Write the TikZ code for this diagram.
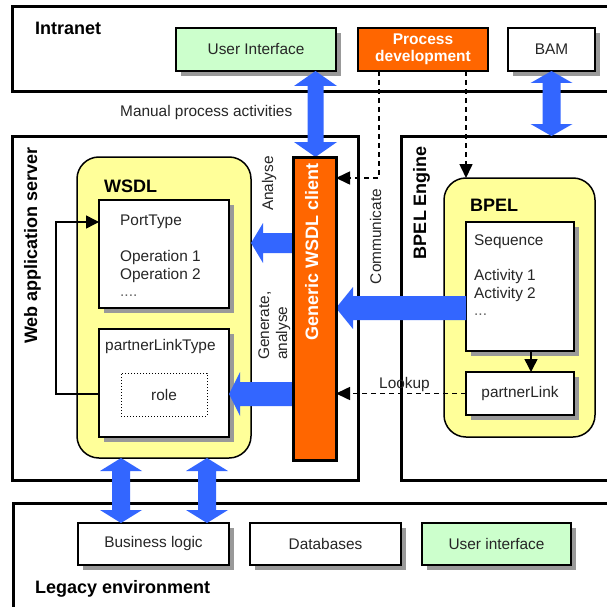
\documentclass[tikz,border=0pt]{standalone}
\usepackage{fontspec}
\setmainfont{Liberation Sans}
\usetikzlibrary{arrows.meta,calc,shadows}
\definecolor{arrblue}{HTML}{3366FF}
\definecolor{orng}{HTML}{FF6600}
\definecolor{ylw}{HTML}{FFFF99}
\definecolor{grn}{HTML}{CCFFCC}
\newcommand\txtR{\fontsize{15.4}{18}\selectfont}
\newcommand\txtB{\fontsize{18}{21}\selectfont\bfseries}
% fat single arrow pointing left: tip, tail, head length, head half width, shaft half width
\newcommand\fatleft[5]{%
  \fill[arrblue] let \p1=#1, \p2=#2 in
    (\x1,\y1) -- (\x1+#3,\y1+#4) -- (\x1+#3,\y1+#5) -- (\x2,\y1+#5)
    -- (\x2,\y1-#5) -- (\x1+#3,\y1-#5) -- (\x1+#3,\y1-#4) -- cycle;}
% fat vertical double arrow: top tip, bottom tip, head length, head half width, shaft half width
\newcommand\fatvv[5]{%
  \fill[arrblue] let \p1=#1, \p2=#2 in
    (\x1,\y1) -- (\x1+#4,\y1-#3) -- (\x1+#5,\y1-#3) -- (\x1+#5,\y2+#3)
    -- (\x1+#4,\y2+#3) -- (\x1,\y2) -- (\x1-#4,\y2+#3) -- (\x1-#5,\y2+#3)
    -- (\x1-#5,\y1-#3) -- (\x1-#4,\y1-#3) -- cycle;}
\begin{document}
\begin{tikzpicture}[x=1pt,y=-1pt,
  outerbox/.style={draw, line width=3pt, anchor=north west, inner sep=0pt, outer sep=0pt},
  inbox/.style={draw, line width=1.5pt, fill=white, anchor=north west, inner sep=0pt, outer sep=0pt,
     font=\txtR, text=black!85,
     drop shadow={shadow xshift=5pt, shadow yshift=-5pt, fill=black!40, opacity=1}},
  yelbox/.style={draw, line width=1.5pt, fill=ylw, rounded corners=22pt, anchor=north west, inner sep=0pt, outer sep=0pt},
  lbl/.style={font=\txtB, inner sep=0pt},
  txt/.style={font=\txtR, inner sep=0pt, text=black!85},
  dasharr/.style={line width=1.6pt, dash pattern=on 5pt off 4pt, -{Triangle[length=14pt,width=13pt]}},
  solidarr/.style={line width=1.5pt, -{Triangle[length=13pt,width=13pt]}},
]
\useasboundingbox (0,0) rectangle (607,607);
\clip (0,0) rectangle (607,607);
\fill[white] (0,0) rectangle (607,607);

% containers
\node[outerbox, minimum width=640pt, minimum height=85pt] (intranet) at (12,7) {};
\node[outerbox, minimum width=346pt, minimum height=344pt] (webserver) at (12,136) {};
\node[outerbox, minimum width=260pt, minimum height=344pt] (engine) at (401,136) {};
\node[outerbox, minimum width=640pt, minimum height=140pt] (legacy) at (13,503) {};

\node[lbl, anchor=base west] (intranetlbl) at (35,35) {Intranet};
\node[lbl, anchor=base west] (legacylbl) at (35,593) {Legacy environment};
\node[lbl, anchor=base, rotate=90] (webserverlbl) at (37,245.5) {Web application server};
\node[lbl, anchor=base, rotate=90] (enginelbl) at (426,202.5) {BPEL Engine};

% intranet boxes
\node[inbox, fill=grn, minimum width=160pt, minimum height=43pt] (ui) at (176,28) {User Interface};
\node[draw, line width=1.5pt, fill=orng, anchor=north west, inner sep=0pt, outer sep=0pt,
      minimum width=130pt, minimum height=43pt, align=center, text=white,
      font=\fontsize{15.5}{17}\selectfont\bfseries] (procdev) at (358,28) {Process\\development};
\node[inbox, minimum width=87pt, minimum height=43pt] (bam) at (508,28) {BAM};

% WSDL
\node[yelbox, minimum width=174pt, minimum height=301pt] (wsdl) at (77,157) {};
\node[lbl, anchor=base west] (wsdllbl) at (104,192) {WSDL};
\node[inbox, minimum width=130pt, minimum height=108pt] (pt) at (99,200) {};
\node[txt, anchor=base west] (pt1) at (120,225.5) {PortType};
\node[txt, anchor=base west] (pt2) at (120,261) {Operation 1};
\node[txt, anchor=base west] (pt3) at (120,279) {Operation 2};
\node[txt, anchor=base west, text=black!60] (pt4) at (120,296) {....};
\node[inbox, minimum width=130pt, minimum height=108pt] (plt) at (99,329) {};
\node[txt, anchor=base west] (plt1) at (105,350) {partnerLinkType};
\node[draw, line width=1pt, dotted, anchor=north west, minimum width=86pt, minimum height=43pt,
      inner sep=0pt, outer sep=0pt, font=\txtR, text=black!85] (role) at (121,373) {role};

% generic client
\node[draw, line width=3pt, fill=orng, anchor=north west, minimum width=43pt, minimum height=303pt,
      inner sep=0pt, outer sep=0pt] (client) at (293,157) {};
\node[lbl, text=white, anchor=base, rotate=90] (clientlbl) at (318,252) {Generic WSDL client};

% BPEL
\node[yelbox, minimum width=151pt, minimum height=259pt] (bpel) at (444,178) {};
\node[lbl, anchor=base west] (bpellbl) at (470,211) {BPEL};
\node[inbox, minimum width=108pt, minimum height=129pt] (seq) at (466,222) {};
\node[txt, anchor=base west] (seq1) at (474,245) {Sequence};
\node[txt, anchor=base west] (seq2) at (474,280) {Activity 1};
\node[txt, anchor=base west] (seq3) at (474,298) {Activity 2};
\node[txt, anchor=base west, text=black!60] (seq4) at (474,315) {...};
\node[inbox, minimum width=108pt, minimum height=43pt] (pl) at (466,372) {partnerLink};

% legacy boxes
\node[inbox, minimum width=151pt, minimum height=42pt] (biz) at (78,523) {Business logic};
\node[inbox, minimum width=151pt, minimum height=42pt] (db) at (250,523) {Databases};
\node[inbox, fill=grn, minimum width=149pt, minimum height=42pt] (lui) at (422,523) {User interface};

% helper coordinates
\coordinate (uix) at (315.5,0);
\coordinate (b1) at (121,0);
\coordinate (b2) at (207,0);
\coordinate (a1) at (0,243);
\coordinate (a2) at (0,394);
\coordinate (a3) at (0,308);
\coordinate (dl) at (379,178);
\coordinate (dr) at (466,0);
\coordinate (sx) at (531,0);
\coordinate (pltout) at (99,394);
\coordinate (fbk) at (56,394);
\coordinate (ptin) at (99,222);

% fat blue arrows
\fatvv{(uix |- ui.south)}{(uix |- client.north)}{15pt}{21.5pt}{8pt}
\fatvv{(bam.south)}{(bam.south |- engine.north)}{12pt}{21pt}{9pt}
\fatvv{(b1 |- wsdl.south)}{(b1 |- biz.north)}{13pt}{21pt}{9pt}
\fatvv{(b2 |- wsdl.south)}{(b2 |- biz.north)}{13pt}{21pt}{9pt}
\fatleft{(wsdl.east |- a1)}{(client.west |- a1)}{12pt}{20pt}{10pt}
\fatleft{(plt.east |- a2)}{(client.west |- a2)}{11pt}{22pt}{12pt}
\fatleft{(client.east |- a3)}{(seq.west |- a3)}{17pt}{21pt}{12pt}

% redraw client border on top
\draw[line width=3pt] (client.north west) rectangle (client.south east);

% labels
\node[txt, anchor=base west] (manual) at (120,117) {Manual process activities};
\node[txt, anchor=base, rotate=90] (analyse) at (273,183.5) {Analyse};
\node[txt, anchor=base west, rotate=90] (gen1) at (269,360) {Generate,};
\node[txt, anchor=base west, rotate=90] (gen2) at (287,360) {analyse};
\node[txt, anchor=base, rotate=90] (comm) at (381,236.5) {Communicate};
\node[txt, anchor=base west] (lookup) at (379,388) {Lookup};

% thin connectors
\draw[dasharr] (procdev.south -| dl) |- (client.east |- dl);
\draw[dasharr] (procdev.south -| dr) -- (bpel.north -| dr);
\draw[dasharr] (pl.west) -- (client.east |- pl.west);
\draw[solidarr] (seq.south -| sx) -- (pl.north -| sx);
\draw[solidarr] (pltout) -- (fbk) |- (ptin);
\end{tikzpicture}
\end{document}
